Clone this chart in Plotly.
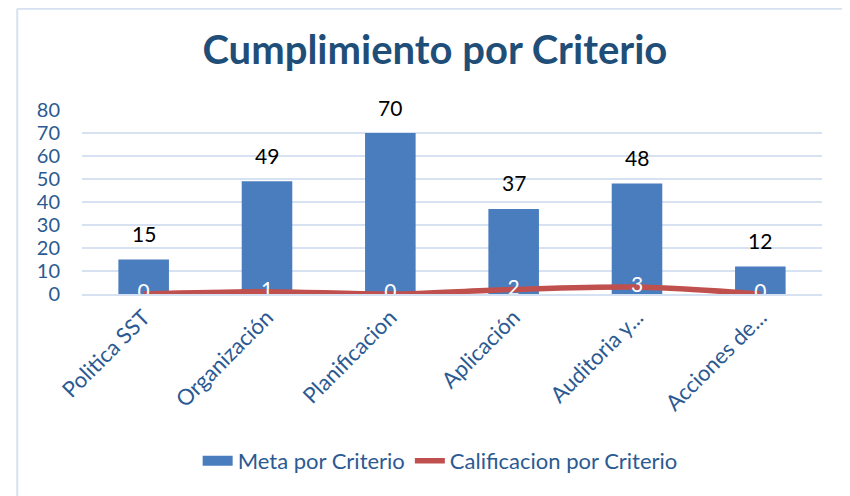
import plotly.graph_objects as go

# Data
criterios = ["Politica SST", "Organización", "Planificacion",
             "Aplicación", "Auditoria y...", "Acciones de..."]
meta_por_criterio = [15, 49, 70, 37, 48, 12]
calificacion_por_criterio = [0, 1, 0, 2, 3, 0]
y_ticks = [0, 10, 20, 30, 40, 50, 60, 70, 80]

FONT = "Lato, Calibri, 'Open Sans', sans-serif"
DARK_BLUE = "#1F4E79"
TICK_BLUE = "#2B5A92"
BAR_BLUE = "#4A7DBE"
LINE_RED = "#C0504D"
GRID = "#D6E1F1"

fig = go.Figure()

# Bars: goal per criterion (legend entry drawn by a wide swatch below)
fig.add_trace(
    go.Bar(x=criterios,
           y=meta_por_criterio,
           name="Meta por Criterio",
           width=0.41,
           showlegend=False,
           marker=dict(color=BAR_BLUE, line=dict(width=0))))

# Legend swatch for the bars
fig.add_trace(
    go.Scatter(x=[None], y=[None], mode="lines",
               name="Meta por Criterio",
               line=dict(color=BAR_BLUE, width=13)))

# Line: score per criterion
fig.add_trace(
    go.Scatter(x=criterios,
               y=calificacion_por_criterio,
               name="Calificacion por Criterio",
               mode="lines+text",
               line=dict(color=LINE_RED, width=5.5, shape="spline",
                         smoothing=0.8),
               text=[str(v) for v in calificacion_por_criterio],
               textposition="middle center",
               textfont=dict(color="white", size=21, family=FONT),
               cliponaxis=False))

# Value labels above the bars
for cat, val in zip(criterios, meta_por_criterio):
    fig.add_annotation(x=cat, y=val, text=str(val), showarrow=False,
                       yshift=26, font=dict(size=21, color="black",
                                            family=FONT))

# Light blue chart border (only left and top visible in the reference)
fig.add_shape(type="line", xref="paper", yref="paper",
              x0=-0.0875, x1=-0.0875, y0=1.55, y1=-1.2,
              line=dict(color=GRID, width=2))
fig.add_shape(type="line", xref="paper", yref="paper",
              x0=-0.0875, x1=1.1, y0=1.55, y1=1.55,
              line=dict(color=GRID, width=2))

fig.update_layout(
    width=842,
    height=488,
    paper_bgcolor="white",
    plot_bgcolor="white",
    margin=dict(l=74, r=28, t=102, b=202),
    font=dict(family=FONT, color=TICK_BLUE, size=21),
    title=dict(text="<b>Cumplimiento por Criterio</b>",
               x=0.507, xanchor="center", y=0.914, yanchor="middle",
               font=dict(size=40, color=DARK_BLUE, family=FONT)),
    showlegend=True,
    legend=dict(orientation="h", x=0.484, xanchor="center",
                y=-0.908, yanchor="middle",
                font=dict(size=22, color=TICK_BLUE, family=FONT),
                traceorder="normal"),
    bargap=0.59,
)

fig.update_yaxes(range=[0, 80], tickvals=y_ticks, showgrid=True,
                 gridcolor=GRID, gridwidth=2, zeroline=False,
                 showline=False, ticks="", ticklabelstandoff=21,
                 tickfont=dict(size=20, color=TICK_BLUE))
fig.update_xaxes(showgrid=False, showline=True, linecolor=GRID,
                 linewidth=2, ticks="", tickangle=-45,
                 tickfont=dict(size=22, color=TICK_BLUE))

fig.write_html("out.html")
